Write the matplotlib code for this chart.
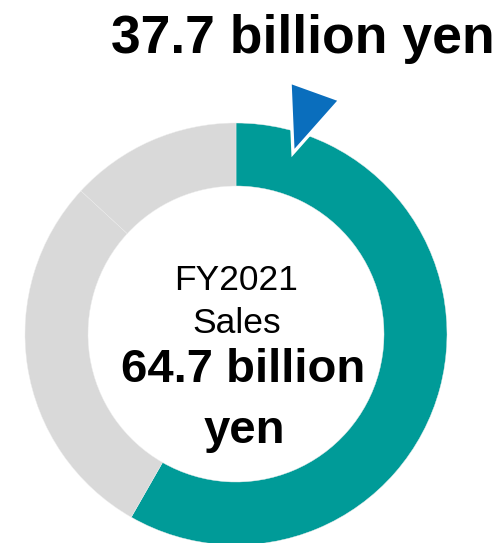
import matplotlib
matplotlib.use("Agg")
import matplotlib.pyplot as plt
from matplotlib.patches import Polygon

plt.rcParams['font.family'] = ['Liberation Sans', 'DejaVu Sans']

# FY2021 sales breakdown (billion yen)
segments = ['Highlighted business', 'Other A', 'Other B']
sales = [37.7, 18.5, 8.5]
colors = ['#009B98', '#D9D9D9', '#D9D9D9']
fiscal_year = 'FY2021'
total_sales = round(sum(sales), 1)

W, H = 497, 543
fig = plt.figure(figsize=(W / 100, H / 100), dpi=100)
ax = fig.add_axes([0, 0, 1, 1])

cx, cy = 236, 209
r_out, r_in = 211, 148

ax.pie(sales, colors=colors, startangle=90, counterclock=False,
       center=(cx, cy), radius=r_out,
       wedgeprops=dict(width=r_out - r_in, edgecolor='#EDEDED', linewidth=0.3))

ax.set_xlim(0, W)
ax.set_ylim(0, H)
ax.set_aspect('equal')
ax.axis('off')

# pointer triangle just above the start of the highlighted segment
tri = Polygon([(cx + 54, cy + 252), (cx + 104, cy + 234), (cx + 57, cy + 181)],
              closed=True, facecolor='#0A6EBD', edgecolor='white',
              linewidth=2.4, joinstyle='miter', zorder=5)
ax.add_patch(tri)

ax.text(495, 490, f'{sales[0]} billion yen', ha='right', va='baseline',
        fontsize=38.5, fontweight='bold', color='black')

ax.text(cx, 253, fiscal_year, ha='center', va='baseline', fontsize=25.5)
ax.text(cx + 1, 210, 'Sales', ha='center', va='baseline', fontsize=25.5)
ax.text(cx + 7, 161, f'{total_sales} billion', ha='center', va='baseline',
        fontsize=34, fontweight='bold')
ax.text(cx + 8, 100, 'yen', ha='center', va='baseline',
        fontsize=34, fontweight='bold')

fig.savefig('out.png', dpi=100)
